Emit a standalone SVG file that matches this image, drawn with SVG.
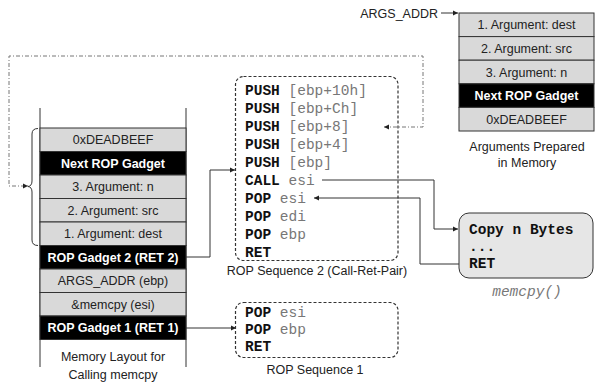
<svg xmlns="http://www.w3.org/2000/svg" width="595" height="384" viewBox="0 0 595 384">
<defs>
<style>
.sans{font-family:"Liberation Sans",Arial,sans-serif;font-size:12.5px;fill:#222}
.cell{font-family:"Liberation Sans",Arial,sans-serif;font-size:12.5px;fill:#222;text-anchor:middle}
.cellb{font-family:"Liberation Sans",Arial,sans-serif;font-size:12.5px;font-weight:bold;fill:#fff;text-anchor:middle}
.lbl{font-family:"Liberation Sans",Arial,sans-serif;font-size:12.5px;fill:#222;text-anchor:middle}
.mono{font-family:"Liberation Mono","Courier New",monospace;font-size:14.5px;fill:#777}
.op{font-weight:bold;fill:#111}
.g{fill:#d9d9d9;stroke:#333;stroke-width:1}
.k{fill:#000;stroke:#333;stroke-width:1}
.seq{fill:none;stroke:#333;stroke-width:1.2;stroke-dasharray:3 2}
.conn{fill:none;stroke:#333;stroke-width:1}
.dd{fill:none;stroke:#777;stroke-width:1;stroke-dasharray:4 2 1 2}
</style>
<marker id="ah" markerWidth="6" markerHeight="6" refX="5" refY="3" orient="auto" markerUnits="userSpaceOnUse">
<path d="M0,0.5 L5,3 L0,5.5 Z" fill="#222"/>
</marker>
<marker id="ahs" markerWidth="6" markerHeight="6" refX="5" refY="3" orient="auto-start-reverse" markerUnits="userSpaceOnUse">
<path d="M0,0.5 L5,3 L0,5.5 Z" fill="#222"/>
</marker>
</defs>
<rect width="595" height="384" fill="#fff"/>

<g id="connectors">
<path class="dd" d="M384,127 H423 V56 H9 V186 H28" marker-start="url(#ahs)" marker-end="url(#ah)"/>
<path class="conn" d="M186,257 H210 V170 H235" marker-end="url(#ah)"/>
<path class="conn" d="M186,328 H236" marker-end="url(#ah)"/>
<path class="conn" d="M322,180 H434 V229 H458" marker-end="url(#ah)"/>
<path class="conn" d="M459,264 H420 V198 H314" marker-end="url(#ah)"/>
<path class="conn" d="M441,13 H458" marker-end="url(#ah)"/>
</g>

<g id="memory-layout">
<line x1="40" y1="108" x2="40" y2="367" stroke="#333"/>
<line x1="186" y1="108" x2="186" y2="367" stroke="#333"/>
<rect class="g" x="40" y="128" width="146" height="23.5"/>
<text class="cell" x="113" y="144.3">0xDEADBEEF</text>
<rect class="k" x="40" y="151.5" width="146" height="23.5"/>
<text class="cellb" x="113" y="167.8">Next ROP Gadget</text>
<rect class="g" x="40" y="175" width="146" height="23.5"/>
<text class="cell" x="113" y="191.3">3. Argument: n</text>
<rect class="g" x="40" y="198.5" width="146" height="23.5"/>
<text class="cell" x="113" y="214.8">2. Argument: src</text>
<rect class="g" x="40" y="222" width="146" height="23.5"/>
<text class="cell" x="113" y="238.3">1. Argument: dest</text>
<rect class="k" x="40" y="245.5" width="146" height="23.5"/>
<text class="cellb" x="113" y="261.8">ROP Gadget 2 (RET 2)</text>
<rect class="g" x="40" y="269" width="146" height="23.5"/>
<text class="cell" x="113" y="285.3">ARGS_ADDR (ebp)</text>
<rect class="g" x="40" y="292.5" width="146" height="23.5"/>
<text class="cell" x="113" y="308.8">&amp;memcpy (esi)</text>
<rect class="k" x="40" y="316" width="146" height="23.5"/>
<text class="cellb" x="113" y="332.3">ROP Gadget 1 (RET 1)</text>
<text class="lbl" x="113" y="360.5">Memory Layout for</text>
<text class="lbl" x="113" y="378.5">Calling memcpy</text>
<path d="M38,128.5 Q32,128.5 32,134 V181 Q32,186 28,186.5 Q32,187 32,192 V240 Q32,245.5 38,245.5" fill="none" stroke="#333" stroke-width="1"/>
</g>

<g id="rop-seq-2">
<rect class="seq" x="235.5" y="76.5" width="162.5" height="184" rx="8"/>
<text class="mono" x="245" y="95"><tspan class="op">PUSH</tspan> [ebp+10h]</text>
<text class="mono" x="245" y="113"><tspan class="op">PUSH</tspan> [ebp+Ch]</text>
<text class="mono" x="245" y="131"><tspan class="op">PUSH</tspan> [ebp+8]</text>
<text class="mono" x="245" y="149"><tspan class="op">PUSH</tspan> [ebp+4]</text>
<text class="mono" x="245" y="167"><tspan class="op">PUSH</tspan> [ebp]</text>
<text class="mono" x="245" y="185"><tspan class="op">CALL</tspan> esi</text>
<text class="mono" x="245" y="203"><tspan class="op">POP</tspan> esi</text>
<text class="mono" x="245" y="221"><tspan class="op">POP</tspan> edi</text>
<text class="mono" x="245" y="239"><tspan class="op">POP</tspan> ebp</text>
<text class="mono" x="245" y="257"><tspan class="op">RET</tspan></text>
<text class="lbl" x="317" y="275">ROP Sequence 2 (Call-Ret-Pair)</text>
</g>

<g id="rop-seq-1">
<rect class="seq" x="235.5" y="302.5" width="162.5" height="55" rx="8"/>
<text class="mono" x="245" y="317"><tspan class="op">POP</tspan> esi</text>
<text class="mono" x="245" y="334"><tspan class="op">POP</tspan> ebp</text>
<text class="mono" x="245" y="351"><tspan class="op">RET</tspan></text>
<text class="lbl" x="315" y="374">ROP Sequence 1</text>
</g>

<g id="args-memory">
<text class="sans" x="438" y="17.5" text-anchor="end">ARGS_ADDR</text>
<rect class="g" x="459" y="13" width="135" height="23.6"/>
<text class="cell" x="526.5" y="29.3">1. Argument: dest</text>
<rect class="g" x="459" y="36.6" width="135" height="23.6"/>
<text class="cell" x="526.5" y="52.9">2. Argument: src</text>
<rect class="g" x="459" y="60.2" width="135" height="23.6"/>
<text class="cell" x="526.5" y="76.5">3. Argument: n</text>
<rect class="k" x="459" y="83.8" width="135" height="23.6"/>
<text class="cellb" x="526.5" y="100.1">Next ROP Gadget</text>
<rect class="g" x="459" y="107.4" width="135" height="23.6"/>
<text class="cell" x="526.5" y="123.7">0xDEADBEEF</text>
<text class="lbl" x="527" y="151">Arguments Prepared</text>
<text class="lbl" x="527" y="167">in Memory</text>
</g>

<g id="memcpy">
<rect x="459" y="213" width="134" height="65" rx="10" fill="#e6e6e6" stroke="#333" stroke-width="1"/>
<text class="mono op" x="469" y="234">Copy n Bytes</text>
<text class="mono op" x="469" y="251">...</text>
<text class="mono op" x="469" y="268">RET</text>
<text class="mono" x="527" y="296" text-anchor="middle" font-style="italic" fill="#666">memcpy()</text>
</g>
</svg>
